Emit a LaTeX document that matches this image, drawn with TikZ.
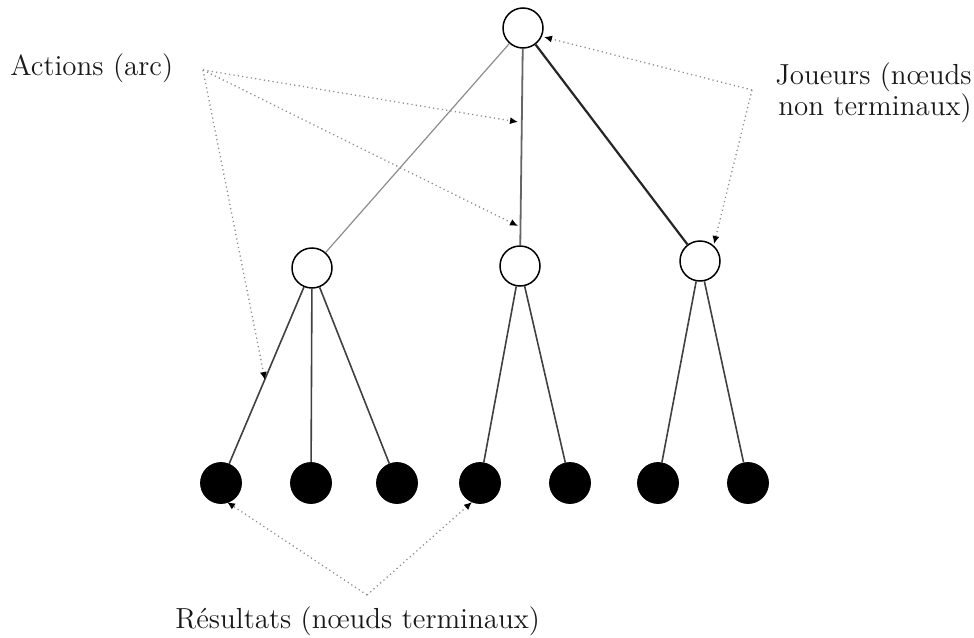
\documentclass[tikz,border=0pt]{standalone}
\usetikzlibrary{arrows.meta}
\begin{document}
\begin{tikzpicture}[x=0.5pt,y=-0.5pt,
  player/.style={circle,draw=black,line width=0.75pt,fill=white,minimum size=20pt,inner sep=0pt},
  outcome/.style={circle,draw=black,fill=black,minimum size=20.5pt,inner sep=0pt},
  edge/.style={draw=black!75,line width=0.8pt},
  lbl/.style={font=\fontsize{14.5}{12}\selectfont,inner sep=0pt,text=black!90},
  pointer/.style={draw=black!45,dash pattern=on 0.6pt off 1.6pt,line width=0.65pt,
    -{Latex[length=4pt,width=3.5pt,color=black]}}]
\useasboundingbox (0,0) rectangle (974,637);

% players
\node[player] (root) at (523,28) {};
\node[player] (pl) at (312,268) {};
\node[player] (pm) at (520,266) {};
\node[player] (pr) at (700,261) {};

% outcomes
\node[outcome] (o1) at (221,483) {};
\node[outcome] (o2) at (311,483) {};
\node[outcome] (o3) at (397,483) {};
\node[outcome] (o4) at (480,483) {};
\node[outcome] (o5) at (570,483) {};
\node[outcome] (o6) at (658,483) {};
\node[outcome] (o7) at (748,483) {};

% actions
\draw[draw=black!45,line width=0.6pt] (root) -- (pl);
\draw[draw=black!60,line width=0.9pt] (root) -- (pm);
\draw[draw=black!85,line width=1.1pt] (root) -- (pr);
\draw[edge] (pl) -- (o1);
\draw[edge] (pl) -- (o2);
\draw[edge] (pl) -- (o3);
\draw[edge] (pm) -- (o4);
\draw[edge] (pm) -- (o5);
\draw[edge] (pr) -- (o6);
\draw[edge] (pr) -- (o7);

% labels
\node[lbl,anchor=base west] (actions) at (10,75) {Actions (arc)};
\node[lbl,anchor=north east,align=right] (joueurs) at (972,62) {Joueurs (nœuds\\non terminaux)};
\node[lbl,anchor=base west] (resultats) at (175,628) {Résultats (nœuds terminaux)};

% pointer hubs and targets
\coordinate (ha) at (203,70);
\coordinate (hj) at (752,90);
\coordinate (hr) at (367,595);
\coordinate (ta1) at (518,122);
\coordinate (ta2) at (518,226);
\coordinate (ta3) at (265,380);
\coordinate (tj1) at (544,37);
\coordinate (tj2) at (714,244);
\coordinate (tr1) at (227,502);
\coordinate (tr2) at (472,502);

\draw[pointer] (ha) -- (ta1);
\draw[pointer] (ha) -- (ta2);
\draw[pointer] (ha) -- (ta3);
\draw[pointer] (hj) -- (tj1);
\draw[pointer] (hj) -- (tj2);
\draw[pointer] (hr) -- (tr1);
\draw[pointer] (hr) -- (tr2);
\end{tikzpicture}
\end{document}
